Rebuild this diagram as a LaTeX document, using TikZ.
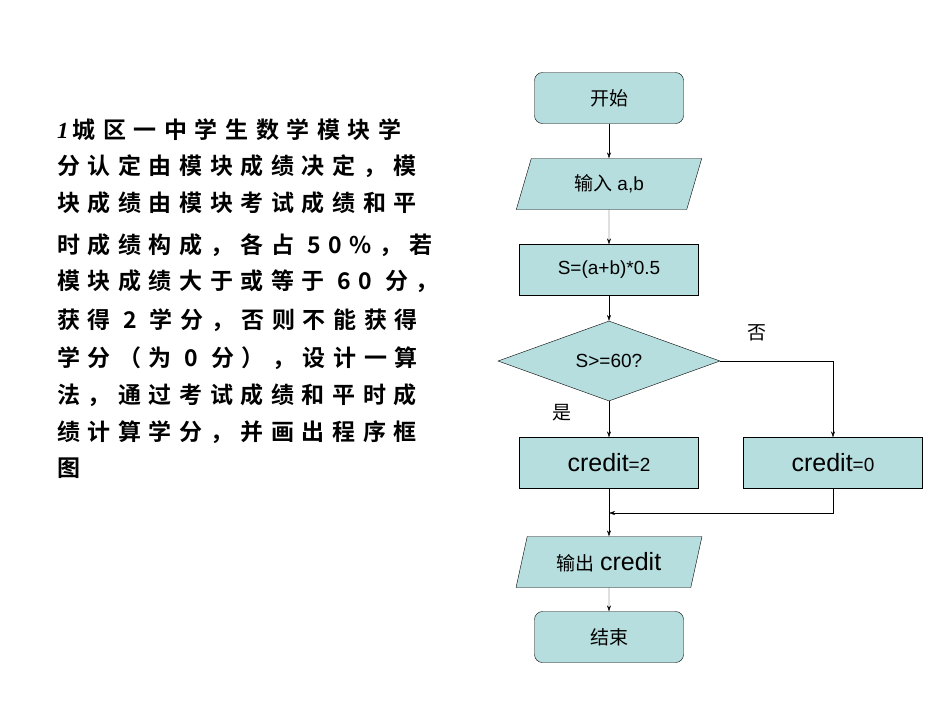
\documentclass[tikz,border=0pt]{standalone}
\usepackage{fontspec}
\setmainfont{Liberation Sans}
\newfontfamily\cjk{Noto Sans CJK SC}
\newfontfamily\cjkb[LetterSpace=33]{Noto Sans CJK SC Bold}
\newfontfamily\serifi{Liberation Serif}
\usetikzlibrary{shapes.geometric,arrows.meta}
\definecolor{boxc}{RGB}{183,222,222}
\begin{document}
\begin{tikzpicture}[x=1pt,y=-1pt,
 box/.style={draw,fill=boxc,minimum width=179pt,minimum height=51pt,inner sep=0pt,font=\fontsize{19}{22}\selectfont},
 rbox/.style={box,rounded corners=8pt,minimum width=149pt},
 io/.style={box,trapezium,trapezium left angle=70,trapezium right angle=110,minimum width=186pt,trapezium stretches=true},
 dia/.style={draw,fill=boxc,diamond,aspect=2.8,minimum width=222pt,minimum height=80pt,inner sep=0pt,font=\fontsize{19}{22}\selectfont},
 ln/.style={-{Stealth[length=6pt,width=4pt]}},
 txt/.style={anchor=west,inner sep=0pt,font=\cjkb\fontsize{23}{26}\selectfont}]
\useasboundingbox (0,0) rectangle (950,713);
\node[txt] (l1) at (57,130) {{\serifi\bfseries\itshape 1}\,城区一中学生数学模块学};
\node[txt] (l2) at (57,166) {分认定由模块成绩决定，模};
\node[txt] (l3) at (57,203) {块成绩由模块考试成绩和平};
\node[txt] (l4) at (57,245) {时成绩构成，各占 50\%，若};
\node[txt] (l5) at (57,281) {模块成绩大于或等于 60 分，};
\node[txt] (l6) at (57,320) {获得 2 学分，否则不能获得};
\node[txt] (l7) at (57,358) {学分（为 0 分），设计一算};
\node[txt] (l8) at (57,395) {法，通过考试成绩和平时成};
\node[txt] (l9) at (57,432) {绩计算学分，并画出程序框};
\node[txt] (l10) at (57,468) {图};
\node[rbox] (s) at (609,98) {\cjk 开始};
\node[io] (in) at (609,184) {{\cjk 输入} a,b};
\node[box] (p) at (609,270) {S=(a+b)*0.5};
\node[dia] (d) at (609,361) {S>=60?};
\node[box] (c2) at (609,463) {{\fontsize{25}{27}\selectfont credit}=2};
\node[box] (c0) at (833,463) {{\fontsize{25}{27}\selectfont credit}=0};
\node[io] (out) at (609,562) {{\cjk 输出} {\fontsize{25}{27}\selectfont credit}};
\node[rbox] (e) at (609,637) {\cjk 结束};
\node[font=\cjk\fontsize{19}{20}\selectfont] (no) at (757,333) {否};
\node[font=\cjk\fontsize{19}{20}\selectfont] (yes) at (562,413) {是};
\coordinate (j) at (609,513);
\draw[ln] (s) -- (in);
\draw[ln] (in) -- (p);
\draw[ln] (p) -- (d);
\draw[ln] (d) -- (c2);
\draw[ln] (d.east) -| (c0.north);
\draw[ln] (c0.south) |- (j);
\draw[ln] (c2) -- (out);
\draw[ln] (out) -- (e);
\end{tikzpicture}
\end{document}
